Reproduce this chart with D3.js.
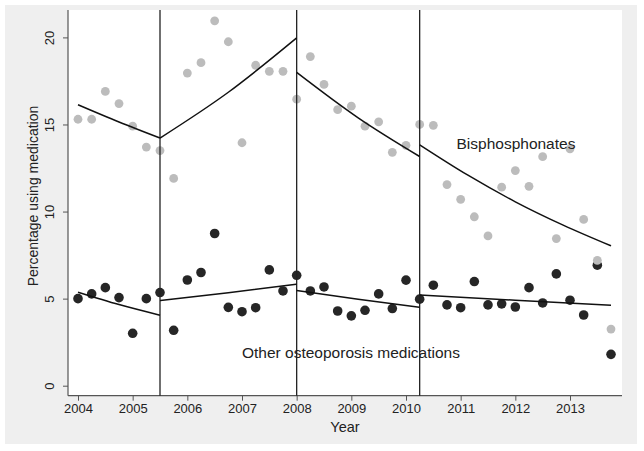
<!DOCTYPE html>
<html>
<head>
<meta charset="utf-8">
<script src="https://cdn.jsdelivr.net/npm/d3@7"></script>
<style>
  body { margin: 0; background: #fff; }
  text { font-family: "Liberation Sans", Arial, sans-serif; fill: #222; }
</style>
</head>
<body>
<div id="chart"></div>
<script>
// quarterly time points, 2004q1 .. 2013q4
var quarters = [];
for (var q = 0; q < 40; q++) quarters.push(2004 + q / 4);

var bisphosphonates = [15.3, 15.3, 16.9, 16.2, 14.9, 13.7, 13.5, 11.9,
  17.95, 18.55, 20.95, 19.75, 13.95, 18.4, 18.05, 18.05,
  16.45, 18.9, 17.3, 15.85, 16.05, 14.9, 15.15, 13.4,
  13.8, 15.0, 14.95, 11.55, 10.7, 9.7, 8.6, 11.4,
  12.35, 11.45, 13.15, 8.45, 13.6, 9.55, 7.2, 3.25];
var otherMeds = [5.0, 5.27, 5.63, 5.06, 3.01, 5.0, 5.35, 3.18,
  6.07, 6.5, 8.74, 4.5, 4.25, 4.48, 6.65, 5.44,
  6.34, 5.44, 5.67, 4.29, 4.01, 4.33, 5.27, 4.43,
  6.06, 4.97, 5.77, 4.64, 4.48, 5.98, 4.64, 4.7,
  4.52, 5.63, 4.75, 6.42, 4.91, 4.06, 6.92, 1.8];

// policy change points (vertical lines)
var breaks = [2005.5, 2008, 2010.25];

// fitted segments: [year, value] knots
var bisFit = [
  [[2004, 16.13], [2004.75, 15.14], [2005.5, 14.22]],
  [[2005.5, 14.22], [2006.75, 16.85], [2008, 19.97]],
  [[2008, 17.99], [2009.125, 15.38], [2010.25, 13.16]],
  [[2010.25, 13.83], [2011.125, 12.1], [2012, 10.56], [2012.875, 9.22], [2013.75, 8.03]]
];
var otherFit = [
  [[2004, 5.37], [2004.75, 4.66], [2005.5, 4.05]],
  [[2005.5, 4.89], [2006.75, 5.34], [2008, 5.83]],
  [[2008, 5.46], [2009.125, 4.96], [2010.25, 4.5]],
  [[2010.25, 5.21], [2012, 4.91], [2013.75, 4.62]]
];

var xTicks = [2004, 2005, 2006, 2007, 2008, 2009, 2010, 2011, 2012, 2013];
var yTicks = [0, 5, 10, 15, 20];

var W = 644, H = 451;
var plotLeft = 68, plotRight = 622, plotTop = 10, plotBottom = 395.7;

var svg = d3.select('#chart').append('svg')
  .attr('width', W)
  .attr('height', H);

// grey graph region and white plot region
svg.append('rect')
  .attr('x', 5).attr('y', 5)
  .attr('width', 632).attr('height', 439)
  .style('fill', '#efefef');
svg.append('rect')
  .attr('x', plotLeft).attr('y', plotTop)
  .attr('width', plotRight - plotLeft).attr('height', plotBottom - plotTop)
  .style('fill', '#fff');

var x = d3.scaleLinear().domain([2004, 2013]).range([78, 570]);
var y = d3.scaleLinear().domain([0, 20]).range([385.7, 37.4]);

// axes
var xAxis = d3.axisBottom(x).tickValues(xTicks).tickFormat(d3.format('d'))
  .tickSize(5).tickPadding(3);
var gx = svg.append('g')
  .attr('transform', 'translate(0,' + plotBottom + ')')
  .call(xAxis);
gx.select('.domain').attr('d', 'M' + plotLeft + ',0H' + plotRight)
  .style('stroke', '#555').style('stroke-width', 1.2);
gx.selectAll('.tick line').style('stroke', '#555');
gx.selectAll('.tick text')
  .style('font-size', '13px')
  .style('font-family', '"Liberation Sans", Arial, sans-serif')
  .style('fill', '#222');

var yAxis = d3.axisLeft(y).tickValues(yTicks).tickSize(5).tickPadding(0);
var gy = svg.append('g')
  .attr('transform', 'translate(' + plotLeft + ',0)')
  .call(yAxis);
gy.select('.domain').attr('d', 'M0,' + plotTop + 'V' + plotBottom)
  .style('stroke', '#555').style('stroke-width', 1.2);
gy.selectAll('.tick line').style('stroke', '#555');
gy.selectAll('.tick text')
  .attr('x', null).attr('dy', null)
  .attr('transform', 'translate(-14.5,0) rotate(-90)')
  .style('text-anchor', 'middle')
  .style('font-size', '13px')
  .style('font-family', '"Liberation Sans", Arial, sans-serif')
  .style('fill', '#222');

// axis titles
svg.append('text')
  .attr('x', (plotLeft + plotRight) / 2).attr('y', 432)
  .attr('text-anchor', 'middle')
  .style('font-size', '14.5px')
  .text('Year');
svg.append('text')
  .attr('transform', 'translate(38,196) rotate(-90)')
  .attr('text-anchor', 'middle')
  .style('font-size', '14px')
  .text('Percentage using medication');

// points
svg.append('g').selectAll('circle')
  .data(otherMeds)
  .enter().append('circle')
  .attr('cx', function(d, i) { return x(quarters[i]); })
  .attr('cy', function(d) { return y(d); })
  .attr('r', 4.8)
  .style('fill', '#262626');

svg.append('g').selectAll('circle')
  .data(bisphosphonates)
  .enter().append('circle')
  .attr('cx', function(d, i) { return x(quarters[i]); })
  .attr('cy', function(d) { return y(d); })
  .attr('r', 4.4)
  .style('fill', '#bcbcbc');

// vertical break lines
svg.append('g').selectAll('line')
  .data(breaks)
  .enter().append('line')
  .attr('x1', function(d) { return x(d); })
  .attr('x2', function(d) { return x(d); })
  .attr('y1', plotTop)
  .attr('y2', plotBottom)
  .style('stroke', '#222')
  .style('stroke-width', 1.3);

// fitted lines
var line = d3.line()
  .x(function(d) { return x(d[0]); })
  .y(function(d) { return y(d[1]); })
  .curve(d3.curveMonotoneX);

svg.append('g').selectAll('path')
  .data(bisFit.concat(otherFit))
  .enter().append('path')
  .attr('d', line)
  .style('fill', 'none')
  .style('stroke', '#111')
  .style('stroke-width', 1.5);

// series labels
svg.append('text')
  .attr('x', 456.5).attr('y', 149)
  .style('font-size', '15.5px')
  .text('Bisphosphonates');
svg.append('text')
  .attr('x', 242).attr('y', 357.5)
  .style('font-size', '15.5px')
  .text('Other osteoporosis medications');
</script>
</body>
</html>
